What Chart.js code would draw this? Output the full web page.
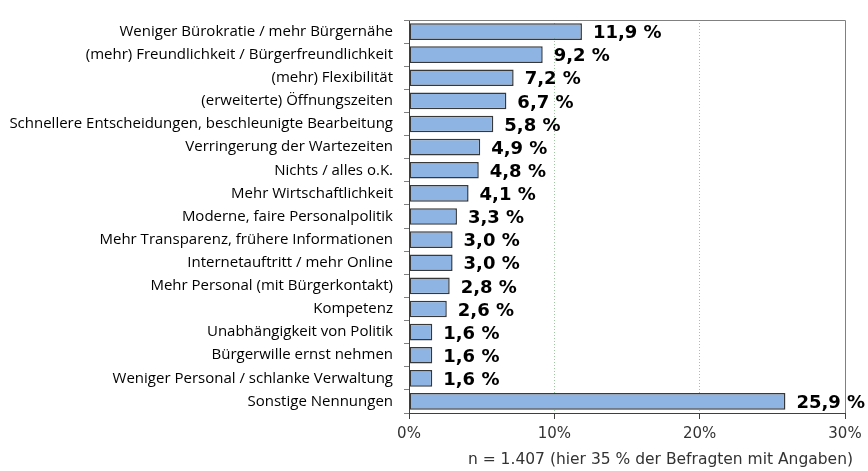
<!DOCTYPE html>
<html>
<head>
<meta charset="utf-8">
<script src="https://cdn.jsdelivr.net/npm/chart.js@4"></script>
<style>
  html, body { margin: 0; padding: 0; background: #fff; }
  #wrap { width: 868px; height: 471px; }
</style>
</head>
<body>
<div id="wrap"><canvas id="chart" width="868" height="471"></canvas></div>
<script>
const categories = [
  'Weniger Bürokratie / mehr Bürgernähe',
  '(mehr) Freundlichkeit / Bürgerfreundlichkeit',
  '(mehr) Flexibilität',
  '(erweiterte) Öffnungszeiten',
  'Schnellere Entscheidungen, beschleunigte Bearbeitung',
  'Verringerung der Wartezeiten',
  'Nichts / alles o.K.',
  'Mehr Wirtschaftlichkeit',
  'Moderne, faire Personalpolitik',
  'Mehr Transparenz, frühere Informationen',
  'Internetauftritt / mehr Online',
  'Mehr Personal (mit Bürgerkontakt)',
  'Kompetenz',
  'Unabhängigkeit von Politik',
  'Bürgerwille ernst nehmen',
  'Weniger Personal / schlanke Verwaltung',
  'Sonstige Nennungen'
];
const shares = [11.9, 9.2, 7.2, 6.7, 5.8, 4.9, 4.8, 4.1, 3.3, 3.0, 3.0, 2.8, 2.6, 1.6, 1.6, 1.6, 25.9];
const xTicks = [0, 10, 20, 30];
const footnote = 'n = 1.407 (hier 35 % der Befragten mit Angaben)';

const fmt = v => v.toFixed(1).replace('.', ',') + ' %';

// value labels, frame lines and footnote
const extras = {
  id: 'extras',
  afterDatasetsDraw(chart) {
    const { ctx, chartArea } = chart;
    const meta = chart.getDatasetMeta(0);
    ctx.save();
    ctx.font = 'bold 18px "DejaVu Sans", Verdana, sans-serif';
    ctx.fillStyle = '#000';
    ctx.textBaseline = 'middle';
    meta.data.forEach((bar, i) => {
      ctx.fillText(fmt(shares[i]), bar.x + 11, bar.y + 2);
    });
    // top and right frame
    ctx.strokeStyle = '#808080';
    ctx.lineWidth = 1;
    ctx.beginPath();
    ctx.moveTo(chartArea.left, chartArea.top + 0.5);
    ctx.lineTo(chartArea.right + 0.5, chartArea.top + 0.5);
    ctx.lineTo(chartArea.right + 0.5, chartArea.bottom);
    ctx.stroke();
    ctx.font = '15.5px "DejaVu Sans", Verdana, sans-serif';
    ctx.fillStyle = '#333';
    ctx.textBaseline = 'alphabetic';
    ctx.textAlign = 'right';
    ctx.fillText(footnote, 853, 464);
    ctx.restore();
  }
};

new Chart(document.getElementById('chart'), {
  type: 'bar',
  data: {
    labels: categories,
    datasets: [{
      data: shares,
      backgroundColor: '#8db4e2',
      borderColor: '#383838',
      borderWidth: 1.5,
      borderSkipped: false,
      categoryPercentage: 1,
      barPercentage: 0.72
    }]
  },
  options: {
    indexAxis: 'y',
    responsive: false,
    animation: false,
    layout: { padding: { top: 12, right: 23, left: 0, bottom: 0 } },
    plugins: { legend: { display: false }, tooltip: { enabled: false } },
    scales: {
      x: {
        min: 0,
        max: 30,
        afterBuildTicks: s => { s.ticks = xTicks.map(v => ({ value: v })); },
        afterFit: s => { s.height = 58; },
        border: { color: '#404040', width: 1, dash: [1, 2] },
        grid: {
          drawOnChartArea: true,
          color: ctx => (ctx.tick && (ctx.tick.value === 10 || ctx.tick.value === 20)) ? '#9fc79f' : 'rgba(0,0,0,0)',
          tickColor: '#404040',
          tickLength: 6,
          tickBorderDash: [],
          lineWidth: 1
        },
        ticks: {
          callback: v => v + '%',
          color: '#333',
          font: { family: '"DejaVu Sans", Verdana, sans-serif', size: 15 },
          padding: 6,
          maxRotation: 0
        }
      },
      y: {
        afterFit: s => { s.width = 409; },
        border: { color: '#404040', width: 1 },
        grid: { offset: true, drawOnChartArea: false, tickLength: 5, tickColor: '#808080' },
        ticks: {
          color: '#000',
          font: { family: '"Open Sans", sans-serif', size: 15 },
          padding: 11,
          autoSkip: false
        }
      }
    }
  },
  plugins: [extras]
});
</script>
</body>
</html>
